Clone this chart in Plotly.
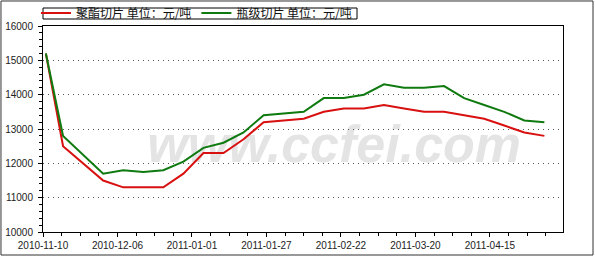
import plotly.graph_objects as go

# ---- data ----
dates = ["2010-11-11", "2010-11-17", "2010-12-01", "2010-12-08", "2010-12-15",
         "2010-12-22", "2010-12-29", "2011-01-05", "2011-01-12", "2011-01-19",
         "2011-01-26", "2011-02-09", "2011-02-16", "2011-02-23", "2011-03-02",
         "2011-03-09", "2011-03-16", "2011-03-23", "2011-03-30", "2011-04-06",
         "2011-04-13", "2011-04-20", "2011-04-27", "2011-05-04"]
polyester_chip = [15200, 12500, 11500, 11300, 11300, 11300, 11700, 12300, 12300, 12700,
                  13200, 13300, 13500, 13600, 13600, 13700, 13600, 13500, 13500, 13400,
                  13300, 13100, 12900, 12800]
bottle_chip = [15200, 12800, 11700, 11800, 11750, 11800, 12050, 12450, 12600, 12900,
               13400, 13500, 13900, 13900, 14000, 14300, 14200, 14200, 14250, 13900,
               13700, 13500, 13250, 13200]
series_names = ["聚酯切片 单位：元/吨", "瓶级切片 单位：元/吨"]
x_tick_labels = ["2010-11-10", "2010-12-06", "2011-01-01", "2011-01-27",
                 "2011-02-22", "2011-03-20", "2011-04-15"]
x_range = ["2010-11-10", "2011-05-10 12:00"]
y_range = [10000, 16000]
watermark = "www.ccfei.com"

DAY = 86400000
font_family = "Liberation Sans, Arial, sans-serif"
cjk = "Noto Sans CJK SC, sans-serif"

fig = go.Figure()
fig.add_trace(go.Scatter(x=dates, y=polyester_chip, mode="lines", name=series_names[0],
                         line=dict(color="#d81010", width=2)))
fig.add_trace(go.Scatter(x=dates, y=bottle_chip, mode="lines", name=series_names[1],
                         line=dict(color="#0f7a0f", width=2)))

fig.update_layout(
    width=596, height=257,
    margin=dict(l=43, r=33, t=26, b=25, autoexpand=False),
    paper_bgcolor="white", plot_bgcolor="white",
    font=dict(family=font_family, size=10, color="#222"),
    showlegend=True,
    legend=dict(orientation="h", x=-0.0135, xanchor="left", y=1.133, yanchor="top",
                font=dict(family=cjk, size=12, color="#111"),
                borderwidth=0, bgcolor="rgba(0,0,0,0)",
                itemwidth=30, tracegroupgap=0),
    xaxis=dict(type="date", range=x_range, tickmode="array",
               tickvals=x_tick_labels, ticktext=x_tick_labels,
               ticks="outside", ticklen=4, tickcolor="#000",
               minor=dict(dtick=6.5 * DAY, tick0=x_range[0], ticklen=3, ticks="outside",
                          tickcolor="#000"),
               showgrid=False, showline=True, linecolor="#000", linewidth=1,
               mirror=True, zeroline=False,
               tickfont=dict(family=font_family, size=10, color="#222")),
    xaxis2=dict(type="date", range=x_range, overlaying="x", side="top",
                tickmode="array", tickvals=x_tick_labels,
                ticks="inside", ticklen=5, tickcolor="#000", showticklabels=False,
                minor=dict(dtick=6.5 * DAY, tick0=x_range[0], ticklen=3, ticks="inside",
                           tickcolor="#000"),
                showgrid=False, showline=False, zeroline=False),
    yaxis=dict(range=y_range, dtick=1000, tick0=10000, tickformat="d",
               ticks="outside", ticklen=4, tickcolor="#000",
               minor=dict(dtick=200, ticklen=3, ticks="outside", tickcolor="#000"),
               showgrid=True, gridcolor="#555", griddash="1px,4px", gridwidth=1,
               showline=True, linecolor="#000", linewidth=1, mirror=True,
               zeroline=False, ticklabelstandoff=3,
               tickfont=dict(family=font_family, size=10, color="#222")),
    yaxis2=dict(range=y_range, overlaying="y", side="left", dtick=1000, tick0=10000,
                ticks="inside", ticklen=3, tickcolor="#000", showticklabels=False,
                minor=dict(dtick=200, ticklen=2, ticks="inside", tickcolor="#000"),
                showgrid=False, showline=False, zeroline=False),
)

# watermark (below the lines)
fig.add_shape(type="rect", xref="paper", yref="paper", x0=0.2, x1=0.92, y0=0.34, y1=0.56,
              line=dict(width=0), fillcolor="rgba(0,0,0,0)", layer="below",
              label=dict(text=watermark, textposition="middle center",
                         font=dict(family=font_family, size=52, color="#e4e4e4",
                                   weight="bold", style="italic")))
# legend frame (thin box around the legend entries)
fig.add_shape(type="rect", xref="paper", yref="paper",
              x0=0.0, x1=(357 - 43) / 520,
              y0=1 + (232 - 19 - 206) / 206,
              y1=1 + (232 - 8 - 206) / 206,
              line=dict(color="#000", width=1), fillcolor="rgba(0,0,0,0)", layer="above")
# outer frame
fig.add_shape(type="rect", xref="paper", yref="paper",
              x0=-0.0808, x1=1.0577, y0=-0.1117, y1=1.1214,
              line=dict(color="#333", width=1), fillcolor="rgba(0,0,0,0)", layer="above")

fig.write_html("out.html")
